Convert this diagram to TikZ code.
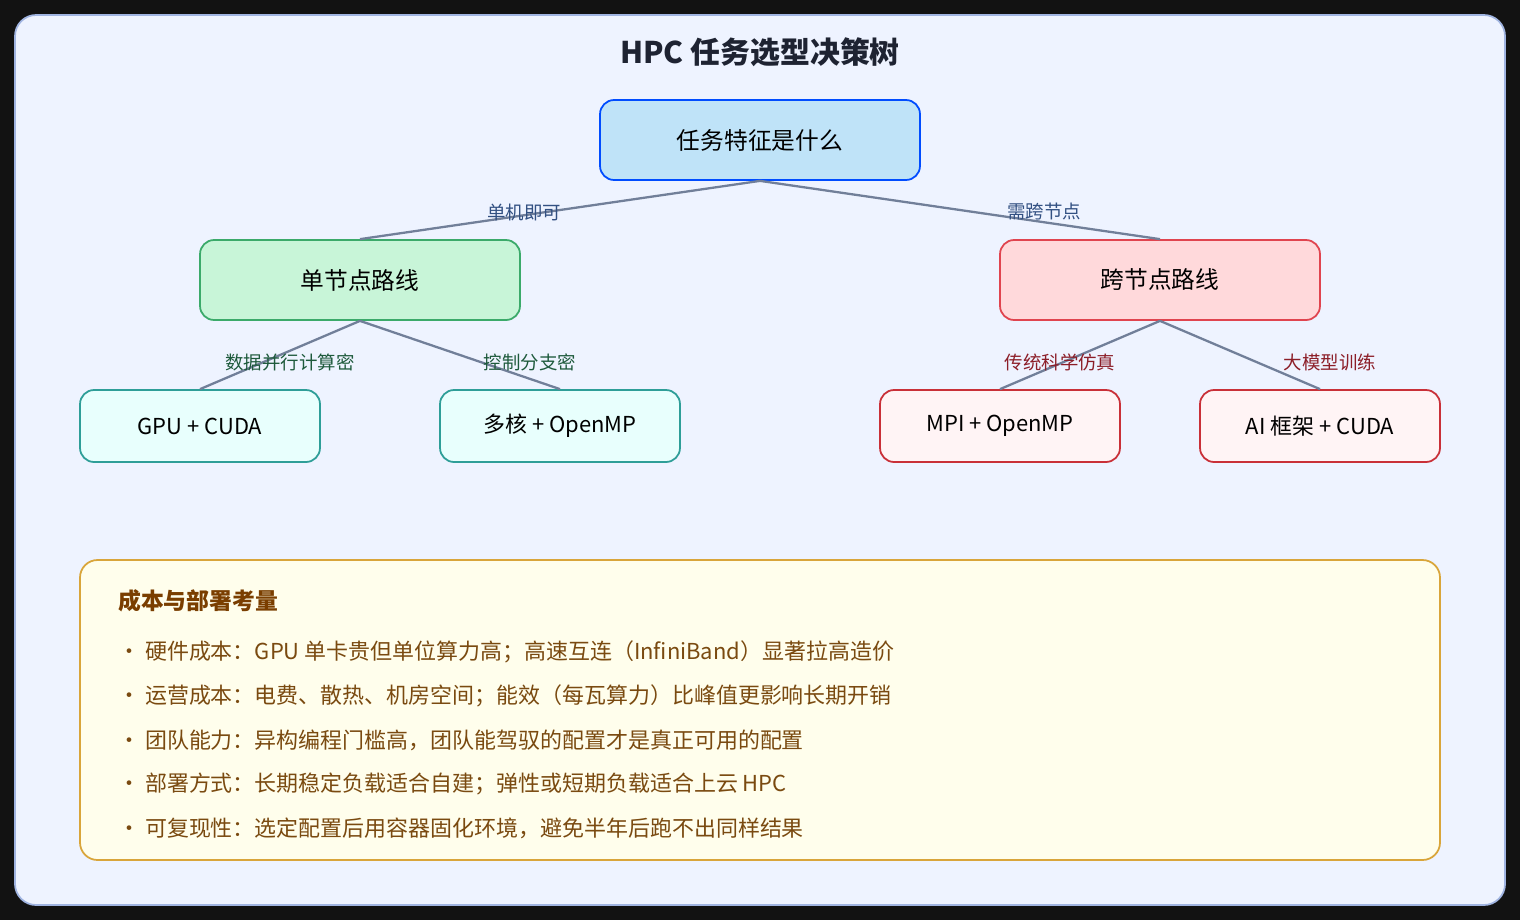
\documentclass[tikz,border=0pt]{standalone}
\usepackage{fontspec}
\setmainfont{Noto Sans CJK SC}
\usetikzlibrary{positioning}
\definecolor{edgec}{HTML}{717F99}
\tikzset{
    root/.style={rectangle, rounded corners=8pt, draw=blue!70!cyan, fill={rgb,255:red,191;green,227;blue,248}, line width=1pt, minimum width=6.4cm, minimum height=1.6cm, font=\fontsize{13.5}{16}\selectfont},
    single/.style={root, draw={rgb,255:red,59;green,170;blue,106}, fill={rgb,255:red,200;green,245;blue,216}},
    multi/.style={root, draw={rgb,255:red,224;green,68;blue,79}, fill={rgb,255:red,255;green,217;blue,219}},
    leafg/.style={root, minimum width=4.8cm, minimum height=1.44cm, draw={rgb,255:red,46;green,158;blue,152}, fill={rgb,255:red,232;green,255;blue,253}, font=\fontsize{12.5}{15}\selectfont},
    leafr/.style={leafg, draw={rgb,255:red,201;green,48;blue,56}, fill={rgb,255:red,255;green,244;blue,245}},
    edge/.style={draw=edgec, line width=1.3pt},
    lab/.style={font=\fontsize{10.5}{12}\selectfont},
    item/.style={anchor=west, text={rgb,255:red,122;green,74;blue,16}, font=\fontsize{12.5}{15}\selectfont}
}
\begin{document}
\begin{tikzpicture}[x=0.02cm, y=-0.02cm]
  \fill[black!93] (0,0) rectangle (1520,920);
  \draw[fill={rgb,255:red,238;green,243;blue,255}, draw={rgb,255:red,160;green,180;blue,225}, line width=1pt, rounded corners=12pt] (15,15) rectangle (1505,905);
  \node[font=\fontsize{17}{20}\selectfont\bfseries, text={rgb,255:red,30;green,35;blue,50}] (title) at (760,52) {HPC 任务选型决策树};
  % tree
  \node[root] (task) at (760,140) {任务特征是什么};
  \node[single] (single) at (360,280) {单节点路线};
  \node[multi] (multi) at (1160,280) {跨节点路线};
  \node[leafg] (gpu) at (200,426) {GPU + CUDA};
  \node[leafg] (omp) at (560,426) {多核 + OpenMP};
  \node[leafr] (mpi) at (1000,426) {MPI + OpenMP};
  \node[leafr] (ai) at (1320,426) {AI 框架 + CUDA};
  \draw[edge] (task.south) -- (single.north);
  \draw[edge] (task.south) -- (multi.north);
  \draw[edge] (single.south) -- (gpu.north);
  \draw[edge] (single.south) -- (omp.north);
  \draw[edge] (multi.south) -- (mpi.north);
  \draw[edge] (multi.south) -- (ai.north);
  \node[lab, text={rgb,255:red,50;green,80;blue,130}] (l1) at (524,212) {单机即可};
  \node[lab, text={rgb,255:red,50;green,80;blue,130}] (l2) at (1044,212) {需跨节点};
  \node[lab, text={rgb,255:red,30;green,90;blue,60}] (l3) at (290,362) {数据并行计算密};
  \node[lab, text={rgb,255:red,30;green,90;blue,60}] (l4) at (530,362) {控制分支密};
  \node[lab, text={rgb,255:red,140;green,30;blue,40}] (l5) at (1060,362) {传统科学仿真};
  \node[lab, text={rgb,255:red,140;green,30;blue,40}] (l6) at (1330,362) {大模型训练};
  % cost box
  \draw[fill={rgb,255:red,255;green,254;blue,236}, draw={rgb,255:red,217;green,165;blue,58}, line width=1pt, rounded corners=10pt] (80,560) rectangle (1440,860);
  \node[item, font=\fontsize{13}{15}\selectfont\bfseries, text={rgb,255:red,122;green,62;blue,0}] (cost) at (112,601) {成本与部署考量};
  \node[item] (c1) at (112,652) {· 硬件成本：GPU 单卡贵但单位算力高；高速互连（InfiniBand）显著拉高造价};
  \node[item] (c2) at (112,696) {· 运营成本：电费、散热、机房空间；能效（每瓦算力）比峰值更影响长期开销};
  \node[item] (c3) at (112,740) {· 团队能力：异构编程门槛高，团队能驾驭的配置才是真正可用的配置};
  \node[item] (c4) at (112,784) {· 部署方式：长期稳定负载适合自建；弹性或短期负载适合上云 HPC};
  \node[item] (c5) at (112,828) {· 可复现性：选定配置后用容器固化环境，避免半年后跑不出同样结果};
\end{tikzpicture}
\end{document}
